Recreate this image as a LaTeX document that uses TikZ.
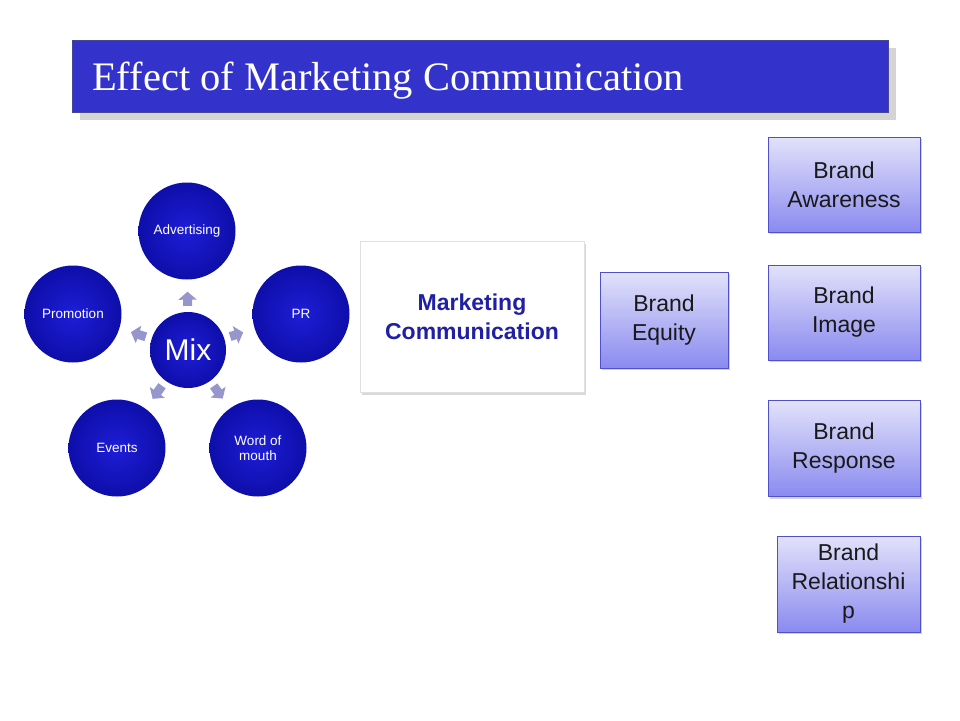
\documentclass[tikz,border=0pt]{standalone}
\usepackage{fontspec}
\setsansfont{Liberation Sans}
\newfontfamily\titlefont{Liberation Serif}
\usetikzlibrary{arrows.meta,positioning,shadows,calc}

\definecolor{barblue}{RGB}{51,51,204}
\definecolor{barline}{RGB}{70,70,150}
\definecolor{ballin}{RGB}{30,30,215}
\definecolor{ballout}{RGB}{14,14,170}
\definecolor{spokecol}{RGB}{150,150,205}
\definecolor{mctext}{RGB}{32,32,165}
\definecolor{boxtop}{RGB}{226,226,250}
\definecolor{boxbot}{RGB}{138,138,240}
\definecolor{boxline}{RGB}{80,80,200}

\begin{document}
\begin{tikzpicture}[x=1pt,y=-1pt,
  titlebar/.style={draw=barline, fill=barblue, minimum width=816pt, minimum height=72pt,
    drop shadow={shadow xshift=8pt, shadow yshift=-8pt, fill=black!17, opacity=1}},
  ball/.style={circle, minimum size=97pt, inner sep=0pt, inner color=ballin, outer color=ballout,
    text=white, align=center, font=\sffamily\fontsize{13.5}{15}\selectfont},
  spoke/.style={draw=spokecol, line width=9pt, shorten <=6pt, shorten >=12pt,
    -{Triangle[width=18pt,length=8pt]}},
  brandbox/.style={draw=boxline, top color=boxtop, bottom color=boxbot, inner sep=0pt,
    align=center, text=black!90, font=\sffamily\fontsize{23}{29}\selectfont,
    drop shadow={shadow xshift=1.5pt, shadow yshift=-2pt, opacity=0.35}}]
  \useasboundingbox (0,0) rectangle (960,720);
  % title
  \node[titlebar] (title) at (480,76) {};
  \node[anchor=base west, text=white, font=\titlefont\fontsize{40.5}{44}\selectfont, inner sep=0pt]
    (ttext) at (92,90) {Effect of Marketing Communication};
  % mix circles
  \node[ball, minimum size=76pt, font=\sffamily\fontsize{30}{32}\selectfont] (mix) at (188,350) {Mix};
  \node[ball] (adv) at (187,231) {Advertising};
  \node[ball] (pr) at (301,314) {PR};
  \node[ball] (promo) at (73,314) {Promotion};
  \node[ball] (events) at (117,448) {Events};
  \node[ball] (wom) at (258,448) {Word of\\mouth};
  \foreach \n in {adv,pr,promo,events,wom}
    \draw[spoke] (mix) -- (\n);
  % marketing communication
  \node[draw=black!12, fill=white, minimum width=224pt, minimum height=151pt, align=center,
    text=mctext, font=\sffamily\bfseries\fontsize{23}{29}\selectfont,
    drop shadow={shadow xshift=2pt, shadow yshift=-3pt, opacity=0.3}]
    (mc) at (472,316.5) {Marketing\\Communication};
  % brand boxes
  \node[brandbox, minimum width=128pt, minimum height=96pt] (equity) at (664,320) {Brand\\Equity};
  \node[brandbox, minimum width=152pt, minimum height=95pt] (aware) at (844,184.5) {Brand\\Awareness};
  \node[brandbox, minimum width=152pt, minimum height=95pt] (image) at (844,312.5) {Brand\\Image};
  \node[brandbox, minimum width=152pt, minimum height=96pt] (resp) at (844,448.5) {Brand\\Response};
  \node[brandbox, minimum width=143pt, minimum height=96pt] (relat) at (848.5,584) {Brand\\Relationshi\\p};
\end{tikzpicture}
\end{document}
